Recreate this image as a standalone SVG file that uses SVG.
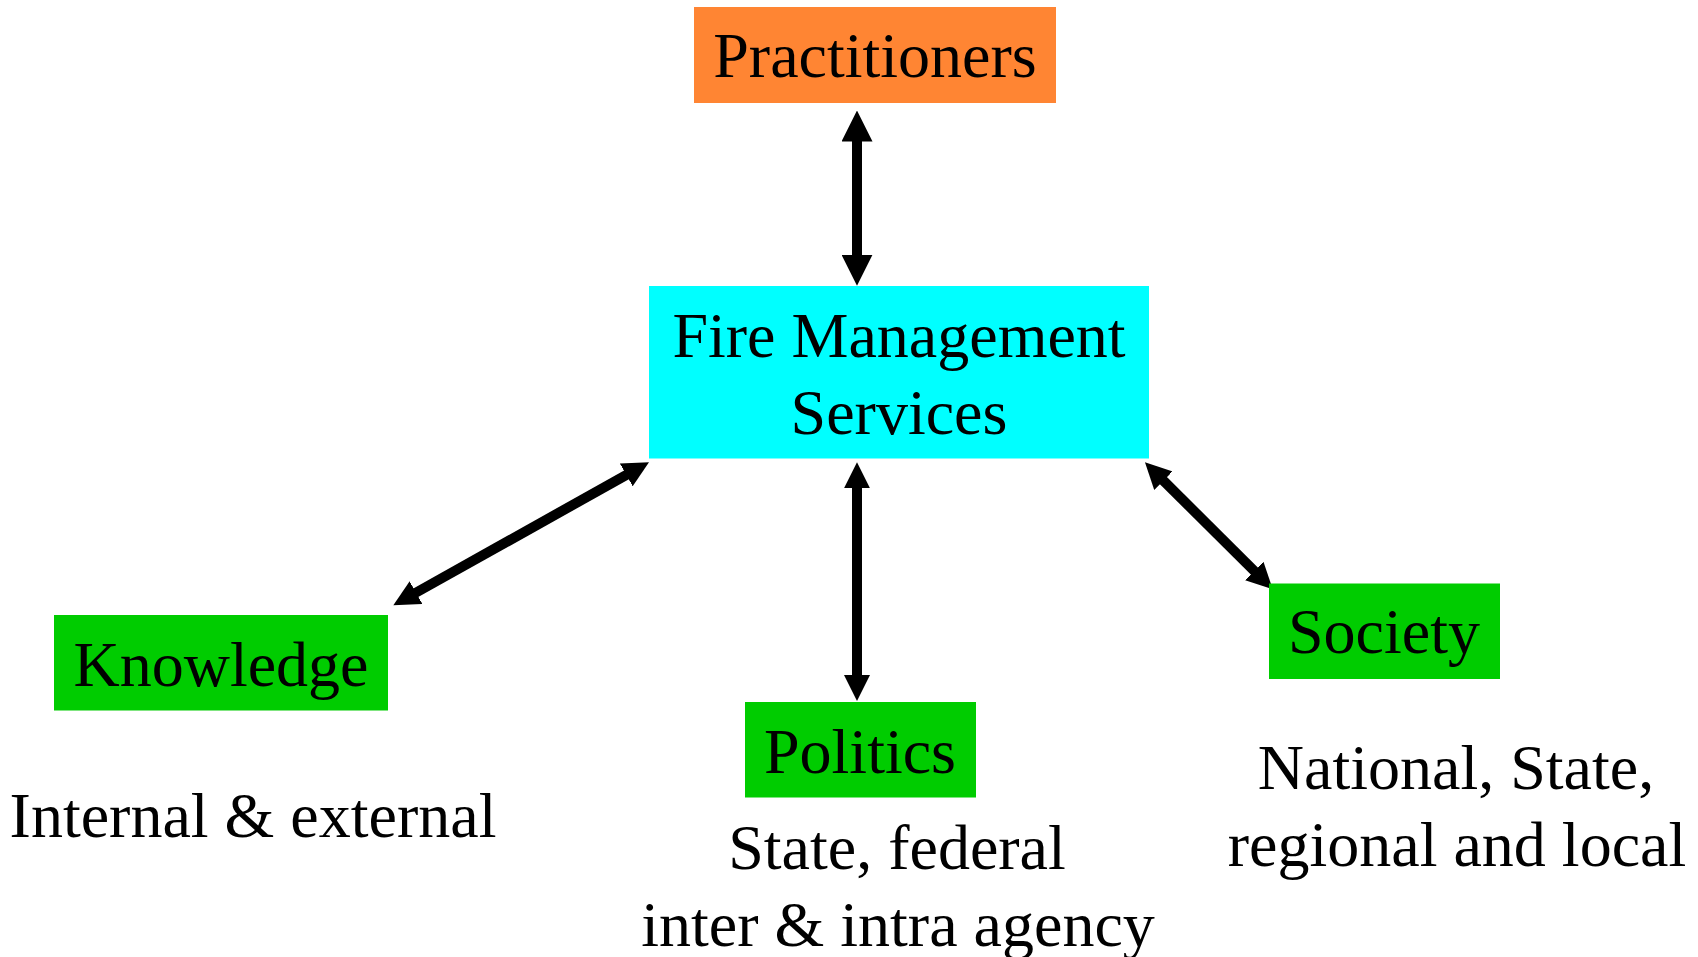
<svg xmlns="http://www.w3.org/2000/svg" width="1698" height="957" viewBox="0 0 1698 957">
  <style>
    text { font-family: "Liberation Serif", "Times New Roman", serif; font-size: 64px; fill: #000; text-anchor: middle; }
    .conn { stroke: #000; stroke-width: 10; fill: none; }
    .orange { fill: #FF8533; }
    .cyan { fill: #00FFFF; }
    .green { fill: #00CC00; }
  </style>
  <defs>
    <marker id="headL" viewBox="0 0 31 31" refX="16" refY="15.5" markerWidth="31" markerHeight="31" markerUnits="userSpaceOnUse" orient="auto-start-reverse">
      <path d="M0,0 L31,15.5 L0,31 z" fill="#000"/>
    </marker>
    <marker id="head" viewBox="0 0 26 26" refX="11" refY="13" markerWidth="26" markerHeight="26" markerUnits="userSpaceOnUse" orient="auto-start-reverse">
      <path d="M0,0 L26,13 L0,26 z" fill="#000"/>
    </marker>
  </defs>
  <rect width="1698" height="957" fill="#fff"/>

  <g id="connectors">
    <line class="conn" x1="857" y1="125.5" x2="857" y2="270.7" marker-start="url(#headL)" marker-end="url(#headL)"/>
    <line class="conn" x1="857" y1="477.3" x2="857" y2="686" marker-start="url(#head)" marker-end="url(#head)"/>
    <line class="conn" x1="635.9" y1="469.6" x2="406.4" y2="598" marker-start="url(#head)" marker-end="url(#head)"/>
    <line class="conn" x1="1155.6" y1="472.9" x2="1262.1" y2="578.7" marker-start="url(#head)" marker-end="url(#head)"/>
  </g>

  <g id="practitioners">
    <rect class="orange" x="694" y="7" width="362" height="96"/>
    <text x="875" y="77">Practitioners</text>
  </g>

  <g id="fire-management-services">
    <rect class="cyan" x="649" y="286" width="500" height="172.5"/>
    <text x="899" y="357">Fire Management</text>
    <text x="899" y="434">Services</text>
  </g>

  <g id="knowledge">
    <rect class="green" x="54" y="615" width="334" height="95.5"/>
    <text x="221" y="686">Knowledge</text>
  </g>

  <g id="politics">
    <rect class="green" x="745" y="702" width="231" height="95.5"/>
    <text x="860" y="773">Politics</text>
  </g>

  <g id="society">
    <rect class="green" x="1269" y="583.5" width="231" height="95.5"/>
    <text x="1384" y="653">Society</text>
  </g>

  <g id="knowledge-note">
    <text x="253" y="837">Internal &amp; external</text>
  </g>

  <g id="politics-note">
    <text x="897" y="869">State, federal</text>
    <text x="898" y="946">inter &amp; intra agency</text>
  </g>

  <g id="society-note">
    <text x="1456" y="789">National, State,</text>
    <text x="1457" y="866">regional and local</text>
  </g>
</svg>
